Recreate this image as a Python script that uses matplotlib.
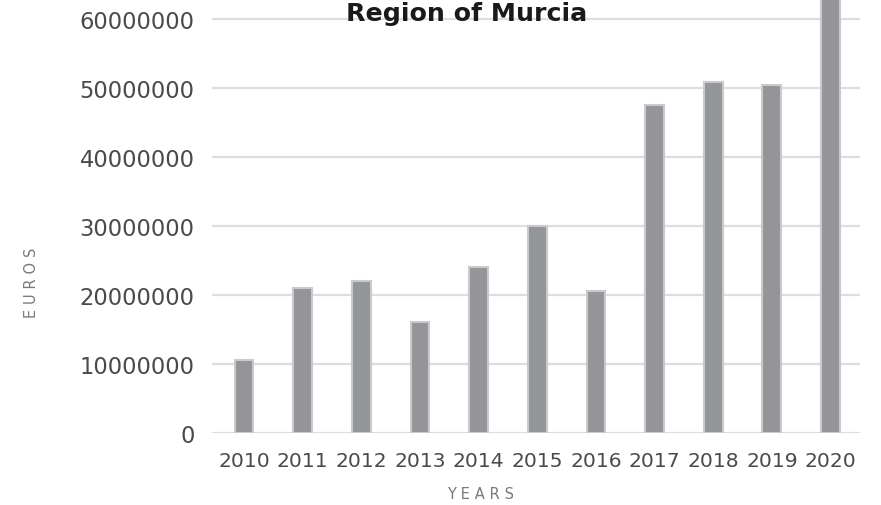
import matplotlib
matplotlib.use("Agg")
import matplotlib.pyplot as plt
from matplotlib.ticker import FixedLocator

years = ["2010", "2011", "2012", "2013", "2014", "2015", "2016", "2017", "2018", "2019", "2020"]
euros = [10600000, 21000000, 22000000, 16000000, 24000000, 30000000, 20500000,
         47500000, 50900000, 50400000, 70000000]
yticks = [0, 10000000, 20000000, 30000000, 40000000, 50000000, 60000000]

plt.rcParams['font.family'] = ['DejaVu Sans']

fig = plt.figure(figsize=(8.81, 5.06), dpi=100)
ax = fig.add_axes([0.2406, 0.143, 0.976 - 0.2406, 0.857])

x = list(range(len(years)))
ax.bar(x, euros, width=0.32, color='#939598', edgecolor='#c9cacc', linewidth=1.5, zorder=3)

ax.set_xlim(-0.545, 10.5)
ax.set_ylim(0, 62930000)
ax.yaxis.set_major_locator(FixedLocator(yticks))
ax.set_yticklabels([str(v) for v in yticks])
ax.set_xticks(x)
ax.set_xticklabels(years)
ax.grid(axis='y', color='#dedede', linewidth=1.6, zorder=0)
for s in ax.spines.values():
    s.set_visible(False)
ax.tick_params(axis='both', length=0, colors='#4a4a4a')
ax.tick_params(axis='y', pad=12.5, labelsize=16.3)
ax.tick_params(axis='x', pad=13, labelsize=14.6)

fig.text(467 / 881, 1 - 20.5 / 506, "Region of Murcia", ha='center', va='baseline',
         fontsize=18.2, fontweight='bold', color='#1a1a1a')
fig.text(481 / 881, 1 - 494.5 / 506, "Y\u2004E\u2004A\u2004R\u2004S", ha='center', va='center',
         fontsize=10.5, color='#7a7a7a')
fig.text(31 / 881, 1 - 283 / 506, "E\u2004U\u2004R\u2004O\u2004S", ha='center', va='center',
         rotation=90, fontsize=10.5, color='#7a7a7a')

fig.savefig("out.png", dpi=100)
